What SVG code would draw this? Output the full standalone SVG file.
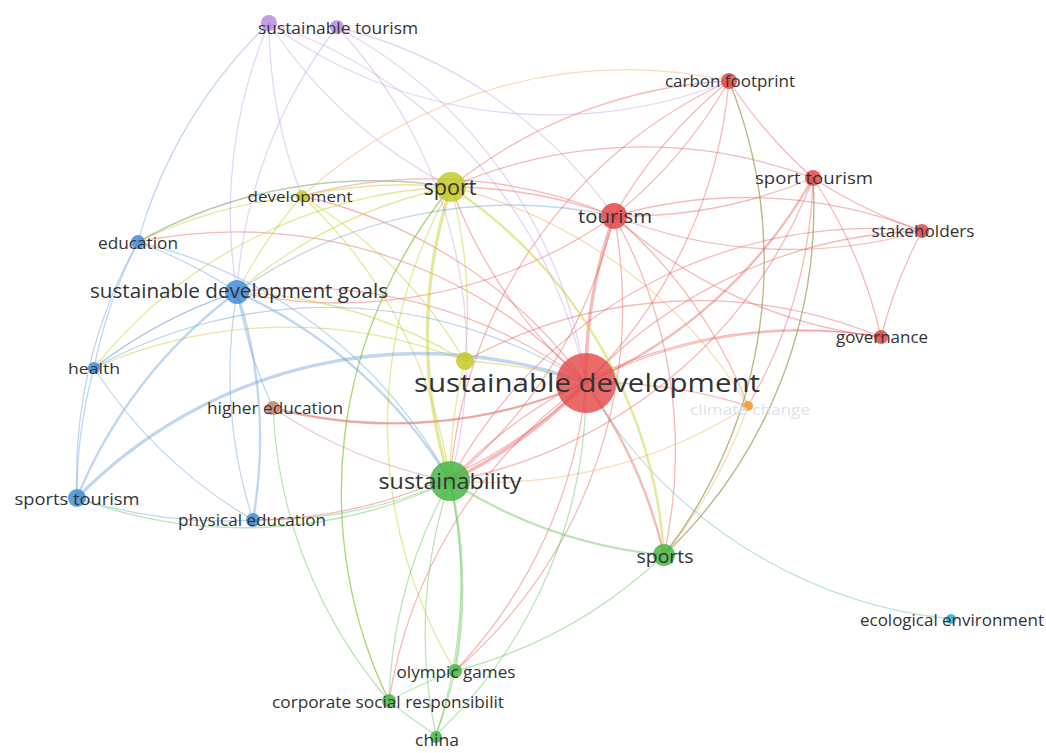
<svg xmlns="http://www.w3.org/2000/svg" width="1046" height="753" viewBox="0 0 1046 753">
<style>
.e{fill:none;stroke-linecap:round}
.r{stroke:#ea5a55;stroke-opacity:.42;stroke-width:1.3}
.y{stroke:#c9d43a;stroke-opacity:.5;stroke-width:1.3}
.b{stroke:#6c9fd8;stroke-opacity:.42;stroke-width:1.3}
.g{stroke:#5cc250;stroke-opacity:.42;stroke-width:1.3}
.p{stroke:#c49ce4;stroke-opacity:.42;stroke-width:1.3}
.o{stroke:#f2a95a;stroke-opacity:.42;stroke-width:1.3}
.t{stroke:#6cbcc4;stroke-opacity:.45;stroke-width:1.3}
.n{stroke:#c9907a;stroke-opacity:.42;stroke-width:1.3}
.w2{stroke-width:2.4}
.w3{stroke-width:3.4}
.lbl{font-family:"Open Sans","Noto Sans",sans-serif;fill:#333;text-anchor:middle;dominant-baseline:central}
.red{fill:#e2403f;fill-opacity:.82}
.grn{fill:#3fb53f;fill-opacity:.82}
.blu{fill:#3a8ad4;fill-opacity:.82}
.ylw{fill:#c2c81e;fill-opacity:.82}
.pur{fill:#b68ae0;fill-opacity:.82}
.org{fill:#f59a2c;fill-opacity:.9}
.brn{fill:#c88a72;fill-opacity:.9}
.tea{fill:#3ab3c6;fill-opacity:.9}
</style>
<rect width="1046" height="753" fill="#ffffff"/>
<g id="connectors">
<path class="e r w3" d="M586,383 A480,480 0 0 1 614,216"/>
<path class="e r" d="M586,383 A480,480 0 0 0 729,81"/>
<path class="e r w2" d="M586,383 A480,480 0 0 0 813,178"/>
<path class="e r" d="M586,383 A480,480 0 0 1 922,231"/>
<path class="e r" d="M586,383 A480,480 0 0 1 881,337"/>
<path class="e r" d="M586,383 A480,480 0 0 1 748,406"/>
<path class="e r w2" d="M586,383 A480,480 0 0 1 664,555"/>
<path class="e r w3" d="M586,383 A480,480 0 0 1 450,481"/>
<path class="e r" d="M586,383 A480,480 0 0 1 451,187"/>
<path class="e r" d="M586,383 A480,480 0 0 0 237,292"/>
<path class="e r w2" d="M586,383 A480,480 0 0 1 273,408"/>
<path class="e t" d="M586,383 A480,480 0 0 0 951,619"/>
<path class="e r" d="M586,383 A480,480 0 0 1 253,520"/>
<path class="e r" d="M586,383 A480,480 0 0 1 455,671"/>
<path class="e r" d="M586,383 A480,480 0 0 0 389,701"/>
<path class="e r" d="M586,383 A480,480 0 0 0 302,196"/>
<path class="e r" d="M586,383 A480,480 0 0 0 138,242"/>
<path class="e r" d="M614,216 A480,480 0 0 1 729,81"/>
<path class="e r" d="M614,216 A480,480 0 0 0 729,81"/>
<path class="e r" d="M614,216 A480,480 0 0 0 813,178"/>
<path class="e r" d="M614,216 A480,480 0 0 0 922,231"/>
<path class="e r" d="M614,216 A480,480 0 0 0 881,337"/>
<path class="e r" d="M614,216 A480,480 0 0 0 451,187"/>
<path class="e r" d="M614,216 A480,480 0 0 1 450,481"/>
<path class="e r" d="M614,216 A480,480 0 0 1 664,555"/>
<path class="e r" d="M614,216 A480,480 0 0 0 302,196"/>
<path class="e r" d="M614,216 A480,480 0 0 1 237,292"/>
<path class="e r" d="M614,216 A480,480 0 0 1 748,406"/>
<path class="e r" d="M614,216 A480,480 0 0 1 455,671"/>
<path class="e r" d="M729,81 A480,480 0 0 0 813,178"/>
<path class="e r" d="M729,81 A480,480 0 0 0 451,187"/>
<path class="e r" d="M729,81 A480,480 0 0 0 450,481"/>
<path class="e r" d="M729,81 A480,480 0 0 1 664,555"/>
<path class="e r" d="M813,178 A480,480 0 0 0 922,231"/>
<path class="e r" d="M813,178 A480,480 0 0 1 881,337"/>
<path class="e r" d="M813,178 A480,480 0 0 1 450,481"/>
<path class="e r" d="M813,178 A480,480 0 0 0 451,187"/>
<path class="e r" d="M813,178 A480,480 0 0 1 748,406"/>
<path class="e r" d="M813,178 A480,480 0 0 1 664,555"/>
<path class="e r" d="M922,231 A480,480 0 0 0 881,337"/>
<path class="e r" d="M922,231 A480,480 0 0 0 450,481"/>
<path class="e r" d="M922,231 A480,480 0 0 0 614,216"/>
<path class="e r" d="M881,337 A480,480 0 0 0 450,481"/>
<path class="e r" d="M881,337 A480,480 0 0 0 465,361"/>
<path class="e o" d="M302,196 A480,480 0 0 1 729,81"/>
<path class="e y" d="M451,187 A480,480 0 0 0 302,196"/>
<path class="e y" d="M451,187 A480,480 0 0 0 237,292"/>
<path class="e y" d="M451,187 A480,480 0 0 0 138,242"/>
<path class="e y w3" d="M451,187 A480,480 0 0 0 450,481"/>
<path class="e y" d="M451,187 A480,480 0 0 1 465,361"/>
<path class="e y w2" d="M451,187 A480,480 0 0 1 664,555"/>
<path class="e y" d="M451,187 A480,480 0 0 0 94,368"/>
<path class="e y" d="M451,187 A480,480 0 0 0 455,671"/>
<path class="e y" d="M451,187 A480,480 0 0 0 389,701"/>
<path class="e y" d="M302,196 A480,480 0 0 1 450,481"/>
<path class="e y" d="M302,196 A480,480 0 0 0 237,292"/>
<path class="e y" d="M302,196 A480,480 0 0 0 138,242"/>
<path class="e y" d="M302,196 A480,480 0 0 1 465,361"/>
<path class="e y" d="M465,361 A480,480 0 0 0 450,481"/>
<path class="e y" d="M465,361 A480,480 0 0 1 586,383"/>
<path class="e y" d="M465,361 A480,480 0 0 0 237,292"/>
<path class="e y" d="M465,361 A480,480 0 0 0 94,368"/>
<path class="e o" d="M748,406 A480,480 0 0 0 451,187"/>
<path class="e o" d="M748,406 A480,480 0 0 1 450,481"/>
<path class="e o" d="M748,406 A480,480 0 0 1 664,555"/>
<path class="e b" d="M237,292 A480,480 0 0 0 138,242"/>
<path class="e b" d="M237,292 A480,480 0 0 0 94,368"/>
<path class="e b w2" d="M237,292 A480,480 0 0 0 77,498"/>
<path class="e b w2" d="M237,292 A480,480 0 0 1 253,520"/>
<path class="e b w2" d="M237,292 A480,480 0 0 1 450,481"/>
<path class="e b" d="M237,292 A480,480 0 0 0 273,408"/>
<path class="e b" d="M237,292 A480,480 0 0 1 614,216"/>
<path class="e b" d="M138,242 A480,480 0 0 0 94,368"/>
<path class="e b" d="M138,242 A480,480 0 0 0 77,498"/>
<path class="e b" d="M138,242 A480,480 0 0 1 450,481"/>
<path class="e b" d="M138,242 A480,480 0 0 1 269,23"/>
<path class="e b" d="M138,242 A480,480 0 0 1 451,187"/>
<path class="e b" d="M77,498 A480,480 0 0 1 94,368"/>
<path class="e b" d="M94,368 A480,480 0 0 0 253,520"/>
<path class="e b" d="M94,368 A480,480 0 0 1 586,383"/>
<path class="e b" d="M94,368 A480,480 0 0 1 237,292"/>
<path class="e b" d="M77,498 A480,480 0 0 0 253,520"/>
<path class="e g" d="M77,498 A480,480 0 0 0 450,481"/>
<path class="e b w3" d="M77,498 A480,480 0 0 1 586,383"/>
<path class="e b" d="M253,520 A480,480 0 0 1 237,292"/>
<path class="e g" d="M253,520 A480,480 0 0 0 450,481"/>
<path class="e n" d="M273,408 A480,480 0 0 0 586,383"/>
<path class="e n" d="M273,408 A480,480 0 0 0 450,481"/>
<path class="e g" d="M273,408 A480,480 0 0 0 389,701"/>
<path class="e g w2" d="M450,481 A480,480 0 0 0 664,555"/>
<path class="e g w2" d="M450,481 A480,480 0 0 1 455,671"/>
<path class="e g" d="M450,481 A480,480 0 0 0 389,701"/>
<path class="e g" d="M450,481 A480,480 0 0 0 436,735"/>
<path class="e g" d="M450,481 A480,480 0 0 1 436,735"/>
<path class="e g" d="M664,555 A480,480 0 0 1 455,671"/>
<path class="e g" d="M664,555 A480,480 0 0 0 729,81"/>
<path class="e g" d="M664,555 A480,480 0 0 0 813,178"/>
<path class="e g" d="M455,671 A480,480 0 0 0 389,701"/>
<path class="e g" d="M455,671 A480,480 0 0 1 436,735"/>
<path class="e g" d="M389,701 A480,480 0 0 0 436,735"/>
<path class="e g" d="M436,735 A480,480 0 0 0 586,383"/>
<path class="e g" d="M389,701 A480,480 0 0 1 451,187"/>
<path class="e p" d="M237,292 A480,480 0 0 1 269,23"/>
<path class="e p" d="M269,23 A480,480 0 0 0 302,196"/>
<path class="e p" d="M269,23 A480,480 0 0 0 451,187"/>
<path class="e p" d="M269,23 A480,480 0 0 1 586,383"/>
<path class="e p" d="M337,27 A480,480 0 0 1 614,216"/>
<path class="e p" d="M337,27 A480,480 0 0 0 237,292"/>
<path class="e p" d="M337,27 A480,480 0 0 1 586,383"/>
<path class="e p" d="M269,23 A480,480 0 0 0 729,81"/>
<path class="e p" d="M337,27 A480,480 0 0 1 450,481"/>
</g>
<g id="n-sustainable-tourism-a"><circle class="pur" cx="269" cy="23" r="8"/></g>
<g id="n-sustainable-tourism"><circle class="pur" cx="337" cy="27" r="7"/><text class="lbl" x="338" y="28" font-size="16" textLength="160" lengthAdjust="spacingAndGlyphs">sustainable tourism</text></g>
<g id="n-carbon-footprint"><circle class="red" cx="729" cy="81" r="8"/><text class="lbl" x="730" y="81" font-size="16" textLength="130" lengthAdjust="spacingAndGlyphs">carbon footprint</text></g>
<g id="n-sport-tourism"><circle class="red" cx="813" cy="178" r="8"/><text class="lbl" x="814" y="178" font-size="16" textLength="118" lengthAdjust="spacingAndGlyphs">sport tourism</text></g>
<g id="n-tourism"><circle class="red" cx="614" cy="216" r="13"/><text class="lbl" x="615" y="216" font-size="19" textLength="74" lengthAdjust="spacingAndGlyphs">tourism</text></g>
<g id="n-stakeholders"><circle class="red" cx="922" cy="231" r="7"/><text class="lbl" x="923" y="231" font-size="16" textLength="103" lengthAdjust="spacingAndGlyphs">stakeholders</text></g>
<g id="n-governance"><circle class="red" cx="881" cy="337" r="7"/><text class="lbl" x="882" y="337" font-size="16" textLength="92" lengthAdjust="spacingAndGlyphs">governance</text></g>
<g id="n-sport"><circle class="ylw" cx="451" cy="187" r="15"/><text class="lbl" x="450" y="187" font-size="21" textLength="53" lengthAdjust="spacingAndGlyphs">sport</text></g>
<g id="n-development"><circle class="ylw" cx="302" cy="196" r="6"/><text class="lbl" x="300" y="196" font-size="15" textLength="105" lengthAdjust="spacingAndGlyphs">development</text></g>
<g id="n-education"><circle class="blu" cx="138" cy="242" r="7"/><text class="lbl" x="138" y="243" font-size="16" textLength="80" lengthAdjust="spacingAndGlyphs">education</text></g>
<g id="n-sdg"><circle class="blu" cx="237" cy="292" r="12"/><text class="lbl" x="239" y="290" font-size="20" textLength="298" lengthAdjust="spacingAndGlyphs">sustainable development goals</text></g>
<g id="n-health"><circle class="blu" cx="94" cy="368" r="6"/><text class="lbl" x="94" y="368" font-size="15" textLength="52" lengthAdjust="spacingAndGlyphs">health</text></g>
<g id="n-economy"><circle class="ylw" cx="465" cy="361" r="9"/></g>
<g id="n-climate-change"><circle class="org" cx="748" cy="406" r="5"/><text class="lbl" x="750" y="409" font-size="15" textLength="120" lengthAdjust="spacingAndGlyphs" style="fill:#dde3ea">climate change</text></g>
<g id="n-sustainable-development"><circle class="red" cx="586" cy="383" r="30" style="fill:#e4494b"/><text class="lbl" x="587" y="382" font-size="26" textLength="346" lengthAdjust="spacingAndGlyphs">sustainable development</text></g>
<g id="n-higher-education"><circle class="brn" cx="273" cy="408" r="7"/><text class="lbl" x="275" y="408" font-size="16" textLength="136" lengthAdjust="spacingAndGlyphs">higher education</text></g>
<g id="n-sustainability"><circle class="grn" cx="450" cy="481" r="20"/><text class="lbl" x="450" y="480" font-size="22" textLength="143" lengthAdjust="spacingAndGlyphs">sustainability</text></g>
<g id="n-sports-tourism"><circle class="blu" cx="77" cy="498" r="9"/><text class="lbl" x="77" y="498" font-size="17" textLength="125" lengthAdjust="spacingAndGlyphs">sports tourism</text></g>
<g id="n-physical-education"><circle class="blu" cx="253" cy="520" r="7"/><text class="lbl" x="252" y="520" font-size="16" textLength="148" lengthAdjust="spacingAndGlyphs">physical education</text></g>
<g id="n-sports"><circle class="grn" cx="664" cy="555" r="11"/><text class="lbl" x="665" y="556" font-size="18" textLength="57" lengthAdjust="spacingAndGlyphs">sports</text></g>
<g id="n-ecological-environment"><circle class="tea" cx="951" cy="619" r="5"/><text class="lbl" x="952" y="620" font-size="16" textLength="184" lengthAdjust="spacingAndGlyphs">ecological environment</text></g>
<g id="n-olympic-games"><circle class="grn" cx="455" cy="671" r="7"/><text class="lbl" x="456" y="672" font-size="16" textLength="119" lengthAdjust="spacingAndGlyphs">olympic games</text></g>
<g id="n-csr"><circle class="grn" cx="389" cy="701" r="7"/><text class="lbl" x="388" y="702" font-size="16" textLength="232" lengthAdjust="spacingAndGlyphs">corporate social responsibilit</text></g>
<g id="n-china"><circle class="grn" cx="436" cy="737" r="6"/><text class="lbl" x="437" y="740" font-size="16" textLength="44" lengthAdjust="spacingAndGlyphs">china</text></g>
</svg>
